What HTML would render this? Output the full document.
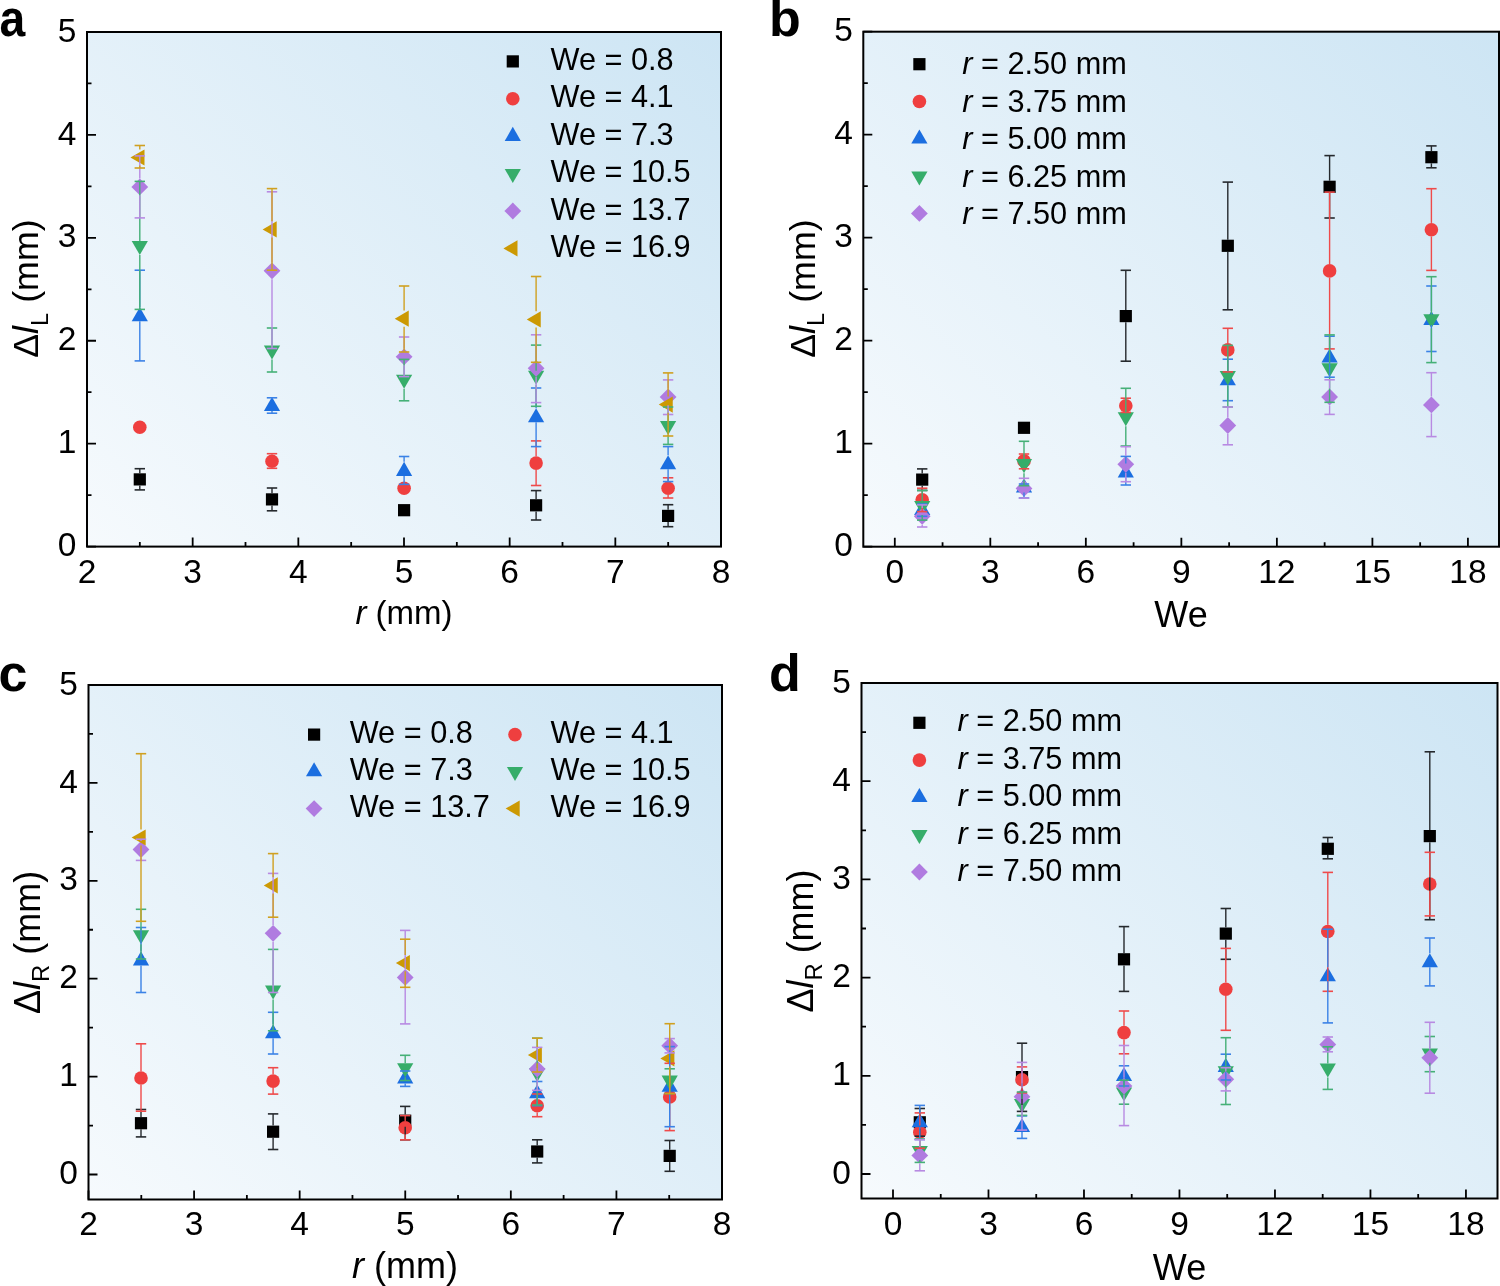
<!DOCTYPE html>
<html><head><meta charset="utf-8"><title>Figure</title>
<style>
html,body{margin:0;padding:0;background:#fff;}
body{width:1500px;height:1286px;overflow:hidden;font-family:"Liberation Sans", sans-serif;}
svg{display:block;will-change:transform;}
</style></head><body>
<svg width="1500" height="1286" viewBox="0 0 1500 1286" font-family='"Liberation Sans", sans-serif' fill="#000">
<linearGradient id="grada" gradientUnits="userSpaceOnUse" x1="116.85" y1="576.45" x2="691.15" y2="2.15"><stop offset="0" stop-color="#f6fafd"/><stop offset="1" stop-color="#cde5f4"/></linearGradient>
<rect x="87" y="32" width="634" height="514.6" fill="url(#grada)"/>
<path d="M87 546.6V537.6M192.67 546.6V537.6M298.33 546.6V537.6M404 546.6V537.6M509.67 546.6V537.6M615.33 546.6V537.6M721 546.6V537.6M139.83 546.6V542.1M245.5 546.6V542.1M351.17 546.6V542.1M456.83 546.6V542.1M562.5 546.6V542.1M668.17 546.6V542.1M87 546.6H96M87 443.68H96M87 340.76H96M87 237.84H96M87 134.92H96M87 32H96M87 495.14H91.5M87 392.22H91.5M87 289.3H91.5M87 186.38H91.5M87 83.46H91.5" stroke="#000" stroke-width="1.8" fill="none"/>
<rect x="133.7" y="473.3" width="12.2" height="12.2" fill="#000000"/>
<rect x="265.9" y="493.3" width="12.2" height="12.2" fill="#000000"/>
<rect x="398" y="504.1" width="12.2" height="12.2" fill="#000000"/>
<rect x="530" y="499.2" width="12.2" height="12.2" fill="#000000"/>
<rect x="662" y="509.8" width="12.2" height="12.2" fill="#000000"/>
<circle cx="139.8" cy="427.2" r="6.8" fill="#ef3f3f"/>
<circle cx="272" cy="461.2" r="6.8" fill="#ef3f3f"/>
<circle cx="404.1" cy="488.2" r="6.8" fill="#ef3f3f"/>
<circle cx="536.1" cy="463.1" r="6.8" fill="#ef3f3f"/>
<circle cx="668.1" cy="488.2" r="6.8" fill="#ef3f3f"/>
<polygon points="139.8,307.15 147.9,321.18 131.7,321.18" fill="#1b6ee0"/>
<polygon points="272,396.95 280.1,410.98 263.9,410.98" fill="#1b6ee0"/>
<polygon points="404.1,461.85 412.2,475.88 396,475.88" fill="#1b6ee0"/>
<polygon points="536.1,408.15 544.2,422.18 528,422.18" fill="#1b6ee0"/>
<polygon points="668.1,455.25 676.2,469.28 660,469.28" fill="#1b6ee0"/>
<polygon points="139.8,255.05 147.9,241.02 131.7,241.02" fill="#36ad6a"/>
<polygon points="272,359.55 280.1,345.52 263.9,345.52" fill="#36ad6a"/>
<polygon points="404.1,388.85 412.2,374.82 396,374.82" fill="#36ad6a"/>
<polygon points="536.1,384.85 544.2,370.82 528,370.82" fill="#36ad6a"/>
<polygon points="668.1,435.05 676.2,421.02 660,421.02" fill="#36ad6a"/>
<polygon points="139.8,178.5 148.2,186.9 139.8,195.3 131.4,186.9" fill="#b07be0"/>
<polygon points="272,262.4 280.4,270.8 272,279.2 263.6,270.8" fill="#b07be0"/>
<polygon points="404.1,348.4 412.5,356.8 404.1,365.2 395.7,356.8" fill="#b07be0"/>
<polygon points="536.1,359.9 544.5,368.3 536.1,376.7 527.7,368.3" fill="#b07be0"/>
<polygon points="668.1,388.5 676.5,396.9 668.1,405.3 659.7,396.9" fill="#b07be0"/>
<polygon points="130.45,157.5 144.48,149.4 144.48,165.6" fill="#cc9903"/>
<polygon points="262.65,229.4 276.68,221.3 276.68,237.5" fill="#cc9903"/>
<polygon points="394.75,318.7 408.78,310.6 408.78,326.8" fill="#cc9903"/>
<polygon points="526.75,319.4 540.78,311.3 540.78,327.5" fill="#cc9903"/>
<polygon points="658.75,404.6 672.78,396.5 672.78,412.7" fill="#cc9903"/>
<line x1="139.8" y1="468.7" x2="139.8" y2="473.3" stroke="#25292d" stroke-width="1.4"/><line x1="139.8" y1="485.5" x2="139.8" y2="489.9" stroke="#25292d" stroke-width="1.4"/><line x1="134.6" y1="468.7" x2="145" y2="468.7" stroke="#25292d" stroke-width="1.6"/><line x1="134.6" y1="489.9" x2="145" y2="489.9" stroke="#25292d" stroke-width="1.6"/>
<line x1="272" y1="488" x2="272" y2="493.3" stroke="#25292d" stroke-width="1.4"/><line x1="272" y1="505.5" x2="272" y2="510.8" stroke="#25292d" stroke-width="1.4"/><line x1="266.8" y1="488" x2="277.2" y2="488" stroke="#25292d" stroke-width="1.6"/><line x1="266.8" y1="510.8" x2="277.2" y2="510.8" stroke="#25292d" stroke-width="1.6"/>

<line x1="536.1" y1="490.6" x2="536.1" y2="499.2" stroke="#25292d" stroke-width="1.4"/><line x1="536.1" y1="511.4" x2="536.1" y2="520" stroke="#25292d" stroke-width="1.4"/><line x1="530.9" y1="490.6" x2="541.3" y2="490.6" stroke="#25292d" stroke-width="1.6"/><line x1="530.9" y1="520" x2="541.3" y2="520" stroke="#25292d" stroke-width="1.6"/>
<line x1="668.1" y1="504.7" x2="668.1" y2="509.8" stroke="#25292d" stroke-width="1.4"/><line x1="668.1" y1="522" x2="668.1" y2="526.7" stroke="#25292d" stroke-width="1.4"/><line x1="662.9" y1="504.7" x2="673.3" y2="504.7" stroke="#25292d" stroke-width="1.6"/><line x1="662.9" y1="526.7" x2="673.3" y2="526.7" stroke="#25292d" stroke-width="1.6"/>

<line x1="272" y1="453.7" x2="272" y2="454.4" stroke="#ef4a4a" stroke-width="1.4"/><line x1="272" y1="468" x2="272" y2="468.3" stroke="#ef4a4a" stroke-width="1.4"/><line x1="266.8" y1="453.7" x2="277.2" y2="453.7" stroke="#ef4a4a" stroke-width="1.6"/><line x1="266.8" y1="468.3" x2="277.2" y2="468.3" stroke="#ef4a4a" stroke-width="1.6"/>

<line x1="536.1" y1="440.9" x2="536.1" y2="456.3" stroke="#ef4a4a" stroke-width="1.4"/><line x1="536.1" y1="469.9" x2="536.1" y2="485.5" stroke="#ef4a4a" stroke-width="1.4"/><line x1="530.9" y1="440.9" x2="541.3" y2="440.9" stroke="#ef4a4a" stroke-width="1.6"/><line x1="530.9" y1="485.5" x2="541.3" y2="485.5" stroke="#ef4a4a" stroke-width="1.6"/>
<line x1="668.1" y1="477.8" x2="668.1" y2="481.4" stroke="#ef4a4a" stroke-width="1.4"/><line x1="668.1" y1="495" x2="668.1" y2="498" stroke="#ef4a4a" stroke-width="1.4"/><line x1="662.9" y1="477.8" x2="673.3" y2="477.8" stroke="#ef4a4a" stroke-width="1.6"/><line x1="662.9" y1="498" x2="673.3" y2="498" stroke="#ef4a4a" stroke-width="1.6"/>
<line x1="139.8" y1="270.2" x2="139.8" y2="307.15" stroke="#3b82e6" stroke-width="1.4"/><line x1="139.8" y1="321.18" x2="139.8" y2="360.9" stroke="#3b82e6" stroke-width="1.4"/><line x1="134.6" y1="270.2" x2="145" y2="270.2" stroke="#3b82e6" stroke-width="1.6"/><line x1="134.6" y1="360.9" x2="145" y2="360.9" stroke="#3b82e6" stroke-width="1.6"/>
<line x1="272" y1="410.98" x2="272" y2="413.2" stroke="#3b82e6" stroke-width="1.4"/><line x1="266.8" y1="397.8" x2="277.2" y2="397.8" stroke="#3b82e6" stroke-width="1.6"/><line x1="266.8" y1="413.2" x2="277.2" y2="413.2" stroke="#3b82e6" stroke-width="1.6"/>
<line x1="404.1" y1="456.5" x2="404.1" y2="461.85" stroke="#3b82e6" stroke-width="1.4"/><line x1="404.1" y1="475.88" x2="404.1" y2="484.4" stroke="#3b82e6" stroke-width="1.4"/><line x1="398.9" y1="456.5" x2="409.3" y2="456.5" stroke="#3b82e6" stroke-width="1.6"/><line x1="398.9" y1="484.4" x2="409.3" y2="484.4" stroke="#3b82e6" stroke-width="1.6"/>
<line x1="536.1" y1="388" x2="536.1" y2="408.15" stroke="#3b82e6" stroke-width="1.4"/><line x1="536.1" y1="422.18" x2="536.1" y2="446.6" stroke="#3b82e6" stroke-width="1.4"/><line x1="530.9" y1="388" x2="541.3" y2="388" stroke="#3b82e6" stroke-width="1.6"/><line x1="530.9" y1="446.6" x2="541.3" y2="446.6" stroke="#3b82e6" stroke-width="1.6"/>
<line x1="668.1" y1="446.6" x2="668.1" y2="455.25" stroke="#3b82e6" stroke-width="1.4"/><line x1="668.1" y1="469.28" x2="668.1" y2="481.6" stroke="#3b82e6" stroke-width="1.4"/><line x1="662.9" y1="446.6" x2="673.3" y2="446.6" stroke="#3b82e6" stroke-width="1.6"/><line x1="662.9" y1="481.6" x2="673.3" y2="481.6" stroke="#3b82e6" stroke-width="1.6"/>
<line x1="139.8" y1="181.4" x2="139.8" y2="241.02" stroke="#45b077" stroke-width="1.4"/><line x1="139.8" y1="255.05" x2="139.8" y2="309.4" stroke="#45b077" stroke-width="1.4"/><line x1="134.6" y1="181.4" x2="145" y2="181.4" stroke="#45b077" stroke-width="1.6"/><line x1="134.6" y1="309.4" x2="145" y2="309.4" stroke="#45b077" stroke-width="1.6"/>
<line x1="272" y1="328" x2="272" y2="345.52" stroke="#45b077" stroke-width="1.4"/><line x1="272" y1="359.55" x2="272" y2="372" stroke="#45b077" stroke-width="1.4"/><line x1="266.8" y1="328" x2="277.2" y2="328" stroke="#45b077" stroke-width="1.6"/><line x1="266.8" y1="372" x2="277.2" y2="372" stroke="#45b077" stroke-width="1.6"/>
<line x1="404.1" y1="359.4" x2="404.1" y2="374.82" stroke="#45b077" stroke-width="1.4"/><line x1="404.1" y1="388.85" x2="404.1" y2="400.8" stroke="#45b077" stroke-width="1.4"/><line x1="398.9" y1="359.4" x2="409.3" y2="359.4" stroke="#45b077" stroke-width="1.6"/><line x1="398.9" y1="400.8" x2="409.3" y2="400.8" stroke="#45b077" stroke-width="1.6"/>
<line x1="536.1" y1="345.1" x2="536.1" y2="370.82" stroke="#45b077" stroke-width="1.4"/><line x1="536.1" y1="384.85" x2="536.1" y2="406.3" stroke="#45b077" stroke-width="1.4"/><line x1="530.9" y1="345.1" x2="541.3" y2="345.1" stroke="#45b077" stroke-width="1.6"/><line x1="530.9" y1="406.3" x2="541.3" y2="406.3" stroke="#45b077" stroke-width="1.6"/>
<line x1="668.1" y1="407" x2="668.1" y2="421.02" stroke="#45b077" stroke-width="1.4"/><line x1="668.1" y1="435.05" x2="668.1" y2="444.4" stroke="#45b077" stroke-width="1.4"/><line x1="662.9" y1="407" x2="673.3" y2="407" stroke="#45b077" stroke-width="1.6"/><line x1="662.9" y1="444.4" x2="673.3" y2="444.4" stroke="#45b077" stroke-width="1.6"/>
<line x1="139.8" y1="155.9" x2="139.8" y2="178.5" stroke="#b88ae2" stroke-width="1.4"/><line x1="139.8" y1="195.3" x2="139.8" y2="217.9" stroke="#b88ae2" stroke-width="1.4"/><line x1="134.6" y1="155.9" x2="145" y2="155.9" stroke="#b88ae2" stroke-width="1.6"/><line x1="134.6" y1="217.9" x2="145" y2="217.9" stroke="#b88ae2" stroke-width="1.6"/>
<line x1="272" y1="191.8" x2="272" y2="262.4" stroke="#b88ae2" stroke-width="1.4"/><line x1="272" y1="279.2" x2="272" y2="348.5" stroke="#b88ae2" stroke-width="1.4"/><line x1="266.8" y1="191.8" x2="277.2" y2="191.8" stroke="#b88ae2" stroke-width="1.6"/><line x1="266.8" y1="348.5" x2="277.2" y2="348.5" stroke="#b88ae2" stroke-width="1.6"/>
<line x1="404.1" y1="337" x2="404.1" y2="348.4" stroke="#b88ae2" stroke-width="1.4"/><line x1="404.1" y1="365.2" x2="404.1" y2="376.6" stroke="#b88ae2" stroke-width="1.4"/><line x1="398.9" y1="337" x2="409.3" y2="337" stroke="#b88ae2" stroke-width="1.6"/><line x1="398.9" y1="376.6" x2="409.3" y2="376.6" stroke="#b88ae2" stroke-width="1.6"/>
<line x1="536.1" y1="334.8" x2="536.1" y2="359.9" stroke="#b88ae2" stroke-width="1.4"/><line x1="536.1" y1="376.7" x2="536.1" y2="402.6" stroke="#b88ae2" stroke-width="1.4"/><line x1="530.9" y1="334.8" x2="541.3" y2="334.8" stroke="#b88ae2" stroke-width="1.6"/><line x1="530.9" y1="402.6" x2="541.3" y2="402.6" stroke="#b88ae2" stroke-width="1.6"/>
<line x1="668.1" y1="379.9" x2="668.1" y2="388.5" stroke="#b88ae2" stroke-width="1.4"/><line x1="668.1" y1="405.3" x2="668.1" y2="414.5" stroke="#b88ae2" stroke-width="1.4"/><line x1="662.9" y1="379.9" x2="673.3" y2="379.9" stroke="#b88ae2" stroke-width="1.6"/><line x1="662.9" y1="414.5" x2="673.3" y2="414.5" stroke="#b88ae2" stroke-width="1.6"/>
<line x1="139.8" y1="145.5" x2="139.8" y2="149.4" stroke="#d0a020" stroke-width="1.4"/><line x1="139.8" y1="165.6" x2="139.8" y2="168" stroke="#d0a020" stroke-width="1.4"/><line x1="134.6" y1="145.5" x2="145" y2="145.5" stroke="#d0a020" stroke-width="1.6"/><line x1="134.6" y1="168" x2="145" y2="168" stroke="#d0a020" stroke-width="1.6"/>
<line x1="272" y1="188.6" x2="272" y2="221.3" stroke="#d0a020" stroke-width="1.4"/><line x1="272" y1="237.5" x2="272" y2="270.2" stroke="#d0a020" stroke-width="1.4"/><line x1="266.8" y1="188.6" x2="277.2" y2="188.6" stroke="#d0a020" stroke-width="1.6"/><line x1="266.8" y1="270.2" x2="277.2" y2="270.2" stroke="#d0a020" stroke-width="1.6"/>
<line x1="404.1" y1="286" x2="404.1" y2="310.6" stroke="#d0a020" stroke-width="1.4"/><line x1="404.1" y1="326.8" x2="404.1" y2="352" stroke="#d0a020" stroke-width="1.4"/><line x1="398.9" y1="286" x2="409.3" y2="286" stroke="#d0a020" stroke-width="1.6"/><line x1="398.9" y1="352" x2="409.3" y2="352" stroke="#d0a020" stroke-width="1.6"/>
<line x1="536.1" y1="276.5" x2="536.1" y2="311.3" stroke="#d0a020" stroke-width="1.4"/><line x1="536.1" y1="327.5" x2="536.1" y2="362.3" stroke="#d0a020" stroke-width="1.4"/><line x1="530.9" y1="276.5" x2="541.3" y2="276.5" stroke="#d0a020" stroke-width="1.6"/><line x1="530.9" y1="362.3" x2="541.3" y2="362.3" stroke="#d0a020" stroke-width="1.6"/>
<line x1="668.1" y1="372.9" x2="668.1" y2="396.5" stroke="#d0a020" stroke-width="1.4"/><line x1="668.1" y1="412.7" x2="668.1" y2="436" stroke="#d0a020" stroke-width="1.4"/><line x1="662.9" y1="372.9" x2="673.3" y2="372.9" stroke="#d0a020" stroke-width="1.6"/><line x1="662.9" y1="436" x2="673.3" y2="436" stroke="#d0a020" stroke-width="1.6"/>
<rect x="506.7" y="55.3" width="12.2" height="12.2" fill="#000000"/>
<text x="550.5" y="69.5" font-size="30.7">We = 0.8</text>
<circle cx="512.8" cy="98.8" r="6.8" fill="#ef3f3f"/>
<text x="550.5" y="107" font-size="30.7">We = 4.1</text>
<polygon points="512.8,126.85 520.9,140.88 504.7,140.88" fill="#1b6ee0"/>
<text x="550.5" y="144.5" font-size="30.7">We = 7.3</text>
<polygon points="512.8,182.95 520.9,168.92 504.7,168.92" fill="#36ad6a"/>
<text x="550.5" y="182" font-size="30.7">We = 10.5</text>
<polygon points="512.8,202.6 521.2,211 512.8,219.4 504.4,211" fill="#b07be0"/>
<text x="550.5" y="219.5" font-size="30.7">We = 13.7</text>
<polygon points="503.45,248.4 517.48,240.3 517.48,256.5" fill="#cc9903"/>
<text x="550.5" y="257" font-size="30.7">We = 16.9</text>
<rect x="87" y="32" width="634" height="514.6" fill="none" stroke="#000" stroke-width="2"/>
<text x="87" y="583" font-size="33.5" text-anchor="middle">2</text>
<text x="192.67" y="583" font-size="33.5" text-anchor="middle">3</text>
<text x="298.33" y="583" font-size="33.5" text-anchor="middle">4</text>
<text x="404" y="583" font-size="33.5" text-anchor="middle">5</text>
<text x="509.67" y="583" font-size="33.5" text-anchor="middle">6</text>
<text x="615.33" y="583" font-size="33.5" text-anchor="middle">7</text>
<text x="721" y="583" font-size="33.5" text-anchor="middle">8</text>
<text x="76.5" y="556.2" font-size="33.5" text-anchor="end">0</text>
<text x="76.5" y="453.28" font-size="33.5" text-anchor="end">1</text>
<text x="76.5" y="350.36" font-size="33.5" text-anchor="end">2</text>
<text x="76.5" y="247.44" font-size="33.5" text-anchor="end">3</text>
<text x="76.5" y="144.52" font-size="33.5" text-anchor="end">4</text>
<text x="76.5" y="41.6" font-size="33.5" text-anchor="end">5</text>
<linearGradient id="gradb" gradientUnits="userSpaceOnUse" x1="893.48" y1="576.88" x2="1468.83" y2="1.53"><stop offset="0" stop-color="#f6fafd"/><stop offset="1" stop-color="#cde5f4"/></linearGradient>
<rect x="863.3" y="31.7" width="635.7" height="515" fill="url(#gradb)"/>
<path d="M894.8 546.7V537.7M990.32 546.7V537.7M1085.84 546.7V537.7M1181.36 546.7V537.7M1276.88 546.7V537.7M1372.4 546.7V537.7M1467.92 546.7V537.7M942.56 546.7V542.2M1038.08 546.7V542.2M1133.6 546.7V542.2M1229.12 546.7V542.2M1324.64 546.7V542.2M1420.16 546.7V542.2M863.3 546.7H872.3M863.3 443.7H872.3M863.3 340.7H872.3M863.3 237.7H872.3M863.3 134.7H872.3M863.3 31.7H872.3M863.3 495.2H867.8M863.3 392.2H867.8M863.3 289.2H867.8M863.3 186.2H867.8M863.3 83.2H867.8" stroke="#000" stroke-width="1.8" fill="none"/>
<rect x="916.1" y="473.5" width="12.2" height="12.2" fill="#000000"/>
<rect x="1017.9" y="421.7" width="12.2" height="12.2" fill="#000000"/>
<rect x="1119.7" y="310" width="12.2" height="12.2" fill="#000000"/>
<rect x="1221.7" y="239.7" width="12.2" height="12.2" fill="#000000"/>
<rect x="1323.5" y="180.7" width="12.2" height="12.2" fill="#000000"/>
<rect x="1425.3" y="151.1" width="12.2" height="12.2" fill="#000000"/>
<circle cx="922.2" cy="499.8" r="6.8" fill="#ef3f3f"/>
<circle cx="1024" cy="460.9" r="6.8" fill="#ef3f3f"/>
<circle cx="1125.8" cy="405.7" r="6.8" fill="#ef3f3f"/>
<circle cx="1227.8" cy="349.9" r="6.8" fill="#ef3f3f"/>
<circle cx="1329.6" cy="270.9" r="6.8" fill="#ef3f3f"/>
<circle cx="1431.4" cy="229.7" r="6.8" fill="#ef3f3f"/>
<polygon points="922.2,500.85 930.3,514.88 914.1,514.88" fill="#1b6ee0"/>
<polygon points="1024,478.35 1032.1,492.38 1015.9,492.38" fill="#1b6ee0"/>
<polygon points="1125.8,463.55 1133.9,477.58 1117.7,477.58" fill="#1b6ee0"/>
<polygon points="1227.8,371.25 1235.9,385.28 1219.7,385.28" fill="#1b6ee0"/>
<polygon points="1329.6,348.55 1337.7,362.58 1321.5,362.58" fill="#1b6ee0"/>
<polygon points="1431.4,310.95 1439.5,324.98 1423.3,324.98" fill="#1b6ee0"/>
<polygon points="922.2,515.05 930.3,501.02 914.1,501.02" fill="#36ad6a"/>
<polygon points="1024,473.15 1032.1,459.12 1015.9,459.12" fill="#36ad6a"/>
<polygon points="1125.8,426.25 1133.9,412.22 1117.7,412.22" fill="#36ad6a"/>
<polygon points="1227.8,385.15 1235.9,371.12 1219.7,371.12" fill="#36ad6a"/>
<polygon points="1329.6,377.25 1337.7,363.22 1321.5,363.22" fill="#36ad6a"/>
<polygon points="1431.4,328.35 1439.5,314.32 1423.3,314.32" fill="#36ad6a"/>
<polygon points="922.2,507.9 930.6,516.3 922.2,524.7 913.8,516.3" fill="#b07be0"/>
<polygon points="1024,480 1032.4,488.4 1024,496.8 1015.6,488.4" fill="#b07be0"/>
<polygon points="1125.8,455.9 1134.2,464.3 1125.8,472.7 1117.4,464.3" fill="#b07be0"/>
<polygon points="1227.8,417.1 1236.2,425.5 1227.8,433.9 1219.4,425.5" fill="#b07be0"/>
<polygon points="1329.6,388.6 1338,397 1329.6,405.4 1321.2,397" fill="#b07be0"/>
<polygon points="1431.4,396.5 1439.8,404.9 1431.4,413.3 1423,404.9" fill="#b07be0"/>
<line x1="922.2" y1="468.9" x2="922.2" y2="473.5" stroke="#25292d" stroke-width="1.4"/><line x1="922.2" y1="485.7" x2="922.2" y2="490.4" stroke="#25292d" stroke-width="1.4"/><line x1="917" y1="468.9" x2="927.4" y2="468.9" stroke="#25292d" stroke-width="1.6"/><line x1="917" y1="490.4" x2="927.4" y2="490.4" stroke="#25292d" stroke-width="1.6"/>

<line x1="1125.8" y1="270.3" x2="1125.8" y2="310" stroke="#25292d" stroke-width="1.4"/><line x1="1125.8" y1="322.2" x2="1125.8" y2="361.2" stroke="#25292d" stroke-width="1.4"/><line x1="1120.6" y1="270.3" x2="1131" y2="270.3" stroke="#25292d" stroke-width="1.6"/><line x1="1120.6" y1="361.2" x2="1131" y2="361.2" stroke="#25292d" stroke-width="1.6"/>
<line x1="1227.8" y1="182.1" x2="1227.8" y2="239.7" stroke="#25292d" stroke-width="1.4"/><line x1="1227.8" y1="251.9" x2="1227.8" y2="309.8" stroke="#25292d" stroke-width="1.4"/><line x1="1222.6" y1="182.1" x2="1233" y2="182.1" stroke="#25292d" stroke-width="1.6"/><line x1="1222.6" y1="309.8" x2="1233" y2="309.8" stroke="#25292d" stroke-width="1.6"/>
<line x1="1329.6" y1="155.6" x2="1329.6" y2="180.7" stroke="#25292d" stroke-width="1.4"/><line x1="1329.6" y1="192.9" x2="1329.6" y2="218" stroke="#25292d" stroke-width="1.4"/><line x1="1324.4" y1="155.6" x2="1334.8" y2="155.6" stroke="#25292d" stroke-width="1.6"/><line x1="1324.4" y1="218" x2="1334.8" y2="218" stroke="#25292d" stroke-width="1.6"/>
<line x1="1431.4" y1="145.9" x2="1431.4" y2="151.1" stroke="#25292d" stroke-width="1.4"/><line x1="1431.4" y1="163.3" x2="1431.4" y2="167.8" stroke="#25292d" stroke-width="1.4"/><line x1="1426.2" y1="145.9" x2="1436.6" y2="145.9" stroke="#25292d" stroke-width="1.6"/><line x1="1426.2" y1="167.8" x2="1436.6" y2="167.8" stroke="#25292d" stroke-width="1.6"/>
<line x1="922.2" y1="488.2" x2="922.2" y2="493" stroke="#ef4a4a" stroke-width="1.4"/><line x1="922.2" y1="506.6" x2="922.2" y2="511.6" stroke="#ef4a4a" stroke-width="1.4"/><line x1="917" y1="488.2" x2="927.4" y2="488.2" stroke="#ef4a4a" stroke-width="1.6"/><line x1="917" y1="511.6" x2="927.4" y2="511.6" stroke="#ef4a4a" stroke-width="1.6"/>
<line x1="1024" y1="454" x2="1024" y2="454.1" stroke="#ef4a4a" stroke-width="1.4"/><line x1="1024" y1="467.7" x2="1024" y2="468.8" stroke="#ef4a4a" stroke-width="1.4"/><line x1="1018.8" y1="454" x2="1029.2" y2="454" stroke="#ef4a4a" stroke-width="1.6"/><line x1="1018.8" y1="468.8" x2="1029.2" y2="468.8" stroke="#ef4a4a" stroke-width="1.6"/>
<line x1="1125.8" y1="398.2" x2="1125.8" y2="398.9" stroke="#ef4a4a" stroke-width="1.4"/><line x1="1120.6" y1="398.2" x2="1131" y2="398.2" stroke="#ef4a4a" stroke-width="1.6"/><line x1="1120.6" y1="412.4" x2="1131" y2="412.4" stroke="#ef4a4a" stroke-width="1.6"/>
<line x1="1227.8" y1="328.3" x2="1227.8" y2="343.1" stroke="#ef4a4a" stroke-width="1.4"/><line x1="1227.8" y1="356.7" x2="1227.8" y2="371.9" stroke="#ef4a4a" stroke-width="1.4"/><line x1="1222.6" y1="328.3" x2="1233" y2="328.3" stroke="#ef4a4a" stroke-width="1.6"/><line x1="1222.6" y1="371.9" x2="1233" y2="371.9" stroke="#ef4a4a" stroke-width="1.6"/>
<line x1="1329.6" y1="192.1" x2="1329.6" y2="264.1" stroke="#ef4a4a" stroke-width="1.4"/><line x1="1329.6" y1="277.7" x2="1329.6" y2="348.9" stroke="#ef4a4a" stroke-width="1.4"/><line x1="1324.4" y1="192.1" x2="1334.8" y2="192.1" stroke="#ef4a4a" stroke-width="1.6"/><line x1="1324.4" y1="348.9" x2="1334.8" y2="348.9" stroke="#ef4a4a" stroke-width="1.6"/>
<line x1="1431.4" y1="188.7" x2="1431.4" y2="222.9" stroke="#ef4a4a" stroke-width="1.4"/><line x1="1431.4" y1="236.5" x2="1431.4" y2="270.4" stroke="#ef4a4a" stroke-width="1.4"/><line x1="1426.2" y1="188.7" x2="1436.6" y2="188.7" stroke="#ef4a4a" stroke-width="1.6"/><line x1="1426.2" y1="270.4" x2="1436.6" y2="270.4" stroke="#ef4a4a" stroke-width="1.6"/>
<line x1="922.2" y1="514.88" x2="922.2" y2="516.3" stroke="#3b82e6" stroke-width="1.4"/><line x1="917" y1="504" x2="927.4" y2="504" stroke="#3b82e6" stroke-width="1.6"/><line x1="917" y1="516.3" x2="927.4" y2="516.3" stroke="#3b82e6" stroke-width="1.6"/>
<line x1="1024" y1="492.38" x2="1024" y2="498" stroke="#3b82e6" stroke-width="1.4"/><line x1="1018.8" y1="484" x2="1029.2" y2="484" stroke="#3b82e6" stroke-width="1.6"/><line x1="1018.8" y1="498" x2="1029.2" y2="498" stroke="#3b82e6" stroke-width="1.6"/>
<line x1="1125.8" y1="456.4" x2="1125.8" y2="463.55" stroke="#3b82e6" stroke-width="1.4"/><line x1="1125.8" y1="477.58" x2="1125.8" y2="485" stroke="#3b82e6" stroke-width="1.4"/><line x1="1120.6" y1="456.4" x2="1131" y2="456.4" stroke="#3b82e6" stroke-width="1.6"/><line x1="1120.6" y1="485" x2="1131" y2="485" stroke="#3b82e6" stroke-width="1.6"/>
<line x1="1227.8" y1="359.2" x2="1227.8" y2="371.25" stroke="#3b82e6" stroke-width="1.4"/><line x1="1227.8" y1="385.28" x2="1227.8" y2="400.7" stroke="#3b82e6" stroke-width="1.4"/><line x1="1222.6" y1="359.2" x2="1233" y2="359.2" stroke="#3b82e6" stroke-width="1.6"/><line x1="1222.6" y1="400.7" x2="1233" y2="400.7" stroke="#3b82e6" stroke-width="1.6"/>
<line x1="1329.6" y1="336.2" x2="1329.6" y2="348.55" stroke="#3b82e6" stroke-width="1.4"/><line x1="1329.6" y1="362.58" x2="1329.6" y2="377.2" stroke="#3b82e6" stroke-width="1.4"/><line x1="1324.4" y1="336.2" x2="1334.8" y2="336.2" stroke="#3b82e6" stroke-width="1.6"/><line x1="1324.4" y1="377.2" x2="1334.8" y2="377.2" stroke="#3b82e6" stroke-width="1.6"/>
<line x1="1431.4" y1="286" x2="1431.4" y2="310.95" stroke="#3b82e6" stroke-width="1.4"/><line x1="1431.4" y1="324.98" x2="1431.4" y2="351.5" stroke="#3b82e6" stroke-width="1.4"/><line x1="1426.2" y1="286" x2="1436.6" y2="286" stroke="#3b82e6" stroke-width="1.6"/><line x1="1426.2" y1="351.5" x2="1436.6" y2="351.5" stroke="#3b82e6" stroke-width="1.6"/>
<line x1="922.2" y1="490.5" x2="922.2" y2="501.02" stroke="#45b077" stroke-width="1.4"/><line x1="922.2" y1="515.05" x2="922.2" y2="520.1" stroke="#45b077" stroke-width="1.4"/><line x1="917" y1="490.5" x2="927.4" y2="490.5" stroke="#45b077" stroke-width="1.6"/><line x1="917" y1="520.1" x2="927.4" y2="520.1" stroke="#45b077" stroke-width="1.6"/>
<line x1="1024" y1="441.3" x2="1024" y2="459.12" stroke="#45b077" stroke-width="1.4"/><line x1="1024" y1="473.15" x2="1024" y2="485.7" stroke="#45b077" stroke-width="1.4"/><line x1="1018.8" y1="441.3" x2="1029.2" y2="441.3" stroke="#45b077" stroke-width="1.6"/><line x1="1018.8" y1="485.7" x2="1029.2" y2="485.7" stroke="#45b077" stroke-width="1.6"/>
<line x1="1125.8" y1="388.3" x2="1125.8" y2="412.22" stroke="#45b077" stroke-width="1.4"/><line x1="1125.8" y1="426.25" x2="1125.8" y2="446" stroke="#45b077" stroke-width="1.4"/><line x1="1120.6" y1="388.3" x2="1131" y2="388.3" stroke="#45b077" stroke-width="1.6"/><line x1="1120.6" y1="446" x2="1131" y2="446" stroke="#45b077" stroke-width="1.6"/>
<line x1="1227.8" y1="345.4" x2="1227.8" y2="371.12" stroke="#45b077" stroke-width="1.4"/><line x1="1227.8" y1="385.15" x2="1227.8" y2="407" stroke="#45b077" stroke-width="1.4"/><line x1="1222.6" y1="345.4" x2="1233" y2="345.4" stroke="#45b077" stroke-width="1.6"/><line x1="1222.6" y1="407" x2="1233" y2="407" stroke="#45b077" stroke-width="1.6"/>
<line x1="1329.6" y1="334.9" x2="1329.6" y2="363.22" stroke="#45b077" stroke-width="1.4"/><line x1="1329.6" y1="377.25" x2="1329.6" y2="402.3" stroke="#45b077" stroke-width="1.4"/><line x1="1324.4" y1="334.9" x2="1334.8" y2="334.9" stroke="#45b077" stroke-width="1.6"/><line x1="1324.4" y1="402.3" x2="1334.8" y2="402.3" stroke="#45b077" stroke-width="1.6"/>
<line x1="1431.4" y1="276.7" x2="1431.4" y2="314.32" stroke="#45b077" stroke-width="1.4"/><line x1="1431.4" y1="328.35" x2="1431.4" y2="362.6" stroke="#45b077" stroke-width="1.4"/><line x1="1426.2" y1="276.7" x2="1436.6" y2="276.7" stroke="#45b077" stroke-width="1.6"/><line x1="1426.2" y1="362.6" x2="1436.6" y2="362.6" stroke="#45b077" stroke-width="1.6"/>
<line x1="922.2" y1="504.9" x2="922.2" y2="507.9" stroke="#b88ae2" stroke-width="1.4"/><line x1="922.2" y1="524.7" x2="922.2" y2="527" stroke="#b88ae2" stroke-width="1.4"/><line x1="917" y1="504.9" x2="927.4" y2="504.9" stroke="#b88ae2" stroke-width="1.6"/><line x1="917" y1="527" x2="927.4" y2="527" stroke="#b88ae2" stroke-width="1.6"/>
<line x1="1024" y1="478.3" x2="1024" y2="480" stroke="#b88ae2" stroke-width="1.4"/><line x1="1024" y1="496.8" x2="1024" y2="498.1" stroke="#b88ae2" stroke-width="1.4"/><line x1="1018.8" y1="478.3" x2="1029.2" y2="478.3" stroke="#b88ae2" stroke-width="1.6"/><line x1="1018.8" y1="498.1" x2="1029.2" y2="498.1" stroke="#b88ae2" stroke-width="1.6"/>
<line x1="1125.8" y1="446.7" x2="1125.8" y2="455.9" stroke="#b88ae2" stroke-width="1.4"/><line x1="1125.8" y1="472.7" x2="1125.8" y2="481.7" stroke="#b88ae2" stroke-width="1.4"/><line x1="1120.6" y1="446.7" x2="1131" y2="446.7" stroke="#b88ae2" stroke-width="1.6"/><line x1="1120.6" y1="481.7" x2="1131" y2="481.7" stroke="#b88ae2" stroke-width="1.6"/>
<line x1="1227.8" y1="407" x2="1227.8" y2="417.1" stroke="#b88ae2" stroke-width="1.4"/><line x1="1227.8" y1="433.9" x2="1227.8" y2="444.8" stroke="#b88ae2" stroke-width="1.4"/><line x1="1222.6" y1="407" x2="1233" y2="407" stroke="#b88ae2" stroke-width="1.6"/><line x1="1222.6" y1="444.8" x2="1233" y2="444.8" stroke="#b88ae2" stroke-width="1.6"/>
<line x1="1329.6" y1="379.8" x2="1329.6" y2="388.6" stroke="#b88ae2" stroke-width="1.4"/><line x1="1329.6" y1="405.4" x2="1329.6" y2="414.4" stroke="#b88ae2" stroke-width="1.4"/><line x1="1324.4" y1="379.8" x2="1334.8" y2="379.8" stroke="#b88ae2" stroke-width="1.6"/><line x1="1324.4" y1="414.4" x2="1334.8" y2="414.4" stroke="#b88ae2" stroke-width="1.6"/>
<line x1="1431.4" y1="372.7" x2="1431.4" y2="396.5" stroke="#b88ae2" stroke-width="1.4"/><line x1="1431.4" y1="413.3" x2="1431.4" y2="436.6" stroke="#b88ae2" stroke-width="1.4"/><line x1="1426.2" y1="372.7" x2="1436.6" y2="372.7" stroke="#b88ae2" stroke-width="1.6"/><line x1="1426.2" y1="436.6" x2="1436.6" y2="436.6" stroke="#b88ae2" stroke-width="1.6"/>
<rect x="913.3" y="58.1" width="12.2" height="12.2" fill="#000000"/>
<text x="962.2" y="74.2" font-size="30.7"><tspan font-style="italic">r</tspan> = 2.50 mm</text>
<circle cx="919.4" cy="101.5" r="6.8" fill="#ef3f3f"/>
<text x="962.2" y="111.7" font-size="30.7"><tspan font-style="italic">r</tspan> = 3.75 mm</text>
<polygon points="919.4,129.45 927.5,143.48 911.3,143.48" fill="#1b6ee0"/>
<text x="962.2" y="149.2" font-size="30.7"><tspan font-style="italic">r</tspan> = 5.00 mm</text>
<polygon points="919.4,185.45 927.5,171.42 911.3,171.42" fill="#36ad6a"/>
<text x="962.2" y="186.7" font-size="30.7"><tspan font-style="italic">r</tspan> = 6.25 mm</text>
<polygon points="919.4,205 927.8,213.4 919.4,221.8 911,213.4" fill="#b07be0"/>
<text x="962.2" y="224.2" font-size="30.7"><tspan font-style="italic">r</tspan> = 7.50 mm</text>
<rect x="863.3" y="31.7" width="635.7" height="515" fill="none" stroke="#000" stroke-width="2"/>
<text x="894.8" y="582.7" font-size="33.5" text-anchor="middle">0</text>
<text x="990.32" y="582.7" font-size="33.5" text-anchor="middle">3</text>
<text x="1085.84" y="582.7" font-size="33.5" text-anchor="middle">6</text>
<text x="1181.36" y="582.7" font-size="33.5" text-anchor="middle">9</text>
<text x="1276.88" y="582.7" font-size="33.5" text-anchor="middle">12</text>
<text x="1372.4" y="582.7" font-size="33.5" text-anchor="middle">15</text>
<text x="1467.92" y="582.7" font-size="33.5" text-anchor="middle">18</text>
<text x="852.8" y="556.3" font-size="33.5" text-anchor="end">0</text>
<text x="852.8" y="453.3" font-size="33.5" text-anchor="end">1</text>
<text x="852.8" y="350.3" font-size="33.5" text-anchor="end">2</text>
<text x="852.8" y="247.3" font-size="33.5" text-anchor="end">3</text>
<text x="852.8" y="144.3" font-size="33.5" text-anchor="end">4</text>
<text x="852.8" y="41.3" font-size="33.5" text-anchor="end">5</text>
<linearGradient id="gradc" gradientUnits="userSpaceOnUse" x1="118.25" y1="1229.25" x2="692.25" y2="655.25"><stop offset="0" stop-color="#f6fafd"/><stop offset="1" stop-color="#cde5f4"/></linearGradient>
<rect x="88.5" y="685" width="633.5" height="514.5" fill="url(#gradc)"/>
<path d="M88.5 1199.5V1190.5M194.08 1199.5V1190.5M299.67 1199.5V1190.5M405.25 1199.5V1190.5M510.83 1199.5V1190.5M616.42 1199.5V1190.5M722 1199.5V1190.5M141.29 1199.5V1195M246.88 1199.5V1195M352.46 1199.5V1195M458.04 1199.5V1195M563.62 1199.5V1195M669.21 1199.5V1195M88.5 1174.5H97.5M88.5 1076.6H97.5M88.5 978.7H97.5M88.5 880.8H97.5M88.5 782.9H97.5M88.5 685H97.5M88.5 1125.55H93M88.5 1027.65H93M88.5 929.75H93M88.5 831.85H93M88.5 733.95H93" stroke="#000" stroke-width="1.8" fill="none"/>
<rect x="134.9" y="1117.1" width="12.2" height="12.2" fill="#000000"/>
<rect x="267" y="1125.6" width="12.2" height="12.2" fill="#000000"/>
<rect x="399.1" y="1114.6" width="12.2" height="12.2" fill="#000000"/>
<rect x="531.1" y="1145.4" width="12.2" height="12.2" fill="#000000"/>
<rect x="663.6" y="1149.8" width="12.2" height="12.2" fill="#000000"/>
<circle cx="141" cy="1078" r="6.8" fill="#ef3f3f"/>
<circle cx="273.1" cy="1081.1" r="6.8" fill="#ef3f3f"/>
<circle cx="405.2" cy="1127.7" r="6.8" fill="#ef3f3f"/>
<circle cx="537.2" cy="1105.7" r="6.8" fill="#ef3f3f"/>
<circle cx="669.7" cy="1096.9" r="6.8" fill="#ef3f3f"/>
<polygon points="141,951.35 149.1,965.38 132.9,965.38" fill="#1b6ee0"/>
<polygon points="273.1,1024.15 281.2,1038.18 265,1038.18" fill="#1b6ee0"/>
<polygon points="405.2,1069.35 413.3,1083.38 397.1,1083.38" fill="#1b6ee0"/>
<polygon points="537.2,1084.25 545.3,1098.28 529.1,1098.28" fill="#1b6ee0"/>
<polygon points="669.7,1077.75 677.8,1091.78 661.6,1091.78" fill="#1b6ee0"/>
<polygon points="141,944.35 149.1,930.32 132.9,930.32" fill="#36ad6a"/>
<polygon points="273.1,999.45 281.2,985.42 265,985.42" fill="#36ad6a"/>
<polygon points="405.2,1077.25 413.3,1063.22 397.1,1063.22" fill="#36ad6a"/>
<polygon points="537.2,1082.05 545.3,1068.02 529.1,1068.02" fill="#36ad6a"/>
<polygon points="669.7,1089.65 677.8,1075.62 661.6,1075.62" fill="#36ad6a"/>
<polygon points="141,841.1 149.4,849.5 141,857.9 132.6,849.5" fill="#b07be0"/>
<polygon points="273.1,924.9 281.5,933.3 273.1,941.7 264.7,933.3" fill="#b07be0"/>
<polygon points="405.2,969 413.6,977.4 405.2,985.8 396.8,977.4" fill="#b07be0"/>
<polygon points="537.2,1060.6 545.6,1069 537.2,1077.4 528.8,1069" fill="#b07be0"/>
<polygon points="669.7,1037.3 678.1,1045.7 669.7,1054.1 661.3,1045.7" fill="#b07be0"/>
<polygon points="131.65,837.5 145.68,829.4 145.68,845.6" fill="#cc9903"/>
<polygon points="263.75,885.4 277.78,877.3 277.78,893.5" fill="#cc9903"/>
<polygon points="395.85,963.1 409.88,955 409.88,971.2" fill="#cc9903"/>
<polygon points="527.85,1055.1 541.88,1047 541.88,1063.2" fill="#cc9903"/>
<polygon points="660.35,1058.4 674.38,1050.3 674.38,1066.5" fill="#cc9903"/>
<line x1="141" y1="1109.5" x2="141" y2="1117.1" stroke="#25292d" stroke-width="1.4"/><line x1="141" y1="1129.3" x2="141" y2="1136.9" stroke="#25292d" stroke-width="1.4"/><line x1="135.8" y1="1109.5" x2="146.2" y2="1109.5" stroke="#25292d" stroke-width="1.6"/><line x1="135.8" y1="1136.9" x2="146.2" y2="1136.9" stroke="#25292d" stroke-width="1.6"/>
<line x1="273.1" y1="1113.9" x2="273.1" y2="1125.6" stroke="#25292d" stroke-width="1.4"/><line x1="273.1" y1="1137.8" x2="273.1" y2="1149.5" stroke="#25292d" stroke-width="1.4"/><line x1="267.9" y1="1113.9" x2="278.3" y2="1113.9" stroke="#25292d" stroke-width="1.6"/><line x1="267.9" y1="1149.5" x2="278.3" y2="1149.5" stroke="#25292d" stroke-width="1.6"/>
<line x1="405.2" y1="1106.4" x2="405.2" y2="1114.6" stroke="#25292d" stroke-width="1.4"/><line x1="405.2" y1="1126.8" x2="405.2" y2="1139.8" stroke="#25292d" stroke-width="1.4"/><line x1="400" y1="1106.4" x2="410.4" y2="1106.4" stroke="#25292d" stroke-width="1.6"/><line x1="400" y1="1139.8" x2="410.4" y2="1139.8" stroke="#25292d" stroke-width="1.6"/>
<line x1="537.2" y1="1139.8" x2="537.2" y2="1145.4" stroke="#25292d" stroke-width="1.4"/><line x1="537.2" y1="1157.6" x2="537.2" y2="1162.9" stroke="#25292d" stroke-width="1.4"/><line x1="532" y1="1139.8" x2="542.4" y2="1139.8" stroke="#25292d" stroke-width="1.6"/><line x1="532" y1="1162.9" x2="542.4" y2="1162.9" stroke="#25292d" stroke-width="1.6"/>
<line x1="669.7" y1="1140.5" x2="669.7" y2="1149.8" stroke="#25292d" stroke-width="1.4"/><line x1="669.7" y1="1162" x2="669.7" y2="1171.3" stroke="#25292d" stroke-width="1.4"/><line x1="664.5" y1="1140.5" x2="674.9" y2="1140.5" stroke="#25292d" stroke-width="1.6"/><line x1="664.5" y1="1171.3" x2="674.9" y2="1171.3" stroke="#25292d" stroke-width="1.6"/>
<line x1="141" y1="1043.8" x2="141" y2="1071.2" stroke="#ef4a4a" stroke-width="1.4"/><line x1="141" y1="1084.8" x2="141" y2="1111.2" stroke="#ef4a4a" stroke-width="1.4"/><line x1="135.8" y1="1043.8" x2="146.2" y2="1043.8" stroke="#ef4a4a" stroke-width="1.6"/><line x1="135.8" y1="1111.2" x2="146.2" y2="1111.2" stroke="#ef4a4a" stroke-width="1.6"/>
<line x1="273.1" y1="1067.7" x2="273.1" y2="1074.3" stroke="#ef4a4a" stroke-width="1.4"/><line x1="273.1" y1="1087.9" x2="273.1" y2="1094.1" stroke="#ef4a4a" stroke-width="1.4"/><line x1="267.9" y1="1067.7" x2="278.3" y2="1067.7" stroke="#ef4a4a" stroke-width="1.6"/><line x1="267.9" y1="1094.1" x2="278.3" y2="1094.1" stroke="#ef4a4a" stroke-width="1.6"/>
<line x1="405.2" y1="1115.6" x2="405.2" y2="1120.9" stroke="#ef4a4a" stroke-width="1.4"/><line x1="405.2" y1="1134.5" x2="405.2" y2="1139.8" stroke="#ef4a4a" stroke-width="1.4"/><line x1="400" y1="1115.6" x2="410.4" y2="1115.6" stroke="#ef4a4a" stroke-width="1.6"/><line x1="400" y1="1139.8" x2="410.4" y2="1139.8" stroke="#ef4a4a" stroke-width="1.6"/>
<line x1="537.2" y1="1094" x2="537.2" y2="1098.9" stroke="#ef4a4a" stroke-width="1.4"/><line x1="537.2" y1="1112.5" x2="537.2" y2="1116.7" stroke="#ef4a4a" stroke-width="1.4"/><line x1="532" y1="1094" x2="542.4" y2="1094" stroke="#ef4a4a" stroke-width="1.6"/><line x1="532" y1="1116.7" x2="542.4" y2="1116.7" stroke="#ef4a4a" stroke-width="1.6"/>
<line x1="669.7" y1="1063.3" x2="669.7" y2="1090.1" stroke="#ef4a4a" stroke-width="1.4"/><line x1="669.7" y1="1103.7" x2="669.7" y2="1130.6" stroke="#ef4a4a" stroke-width="1.4"/><line x1="664.5" y1="1063.3" x2="674.9" y2="1063.3" stroke="#ef4a4a" stroke-width="1.6"/><line x1="664.5" y1="1130.6" x2="674.9" y2="1130.6" stroke="#ef4a4a" stroke-width="1.6"/>
<line x1="141" y1="927.5" x2="141" y2="951.35" stroke="#3b82e6" stroke-width="1.4"/><line x1="141" y1="965.38" x2="141" y2="992.5" stroke="#3b82e6" stroke-width="1.4"/><line x1="135.8" y1="927.5" x2="146.2" y2="927.5" stroke="#3b82e6" stroke-width="1.6"/><line x1="135.8" y1="992.5" x2="146.2" y2="992.5" stroke="#3b82e6" stroke-width="1.6"/>
<line x1="273.1" y1="1012.3" x2="273.1" y2="1024.15" stroke="#3b82e6" stroke-width="1.4"/><line x1="273.1" y1="1038.18" x2="273.1" y2="1054" stroke="#3b82e6" stroke-width="1.4"/><line x1="267.9" y1="1012.3" x2="278.3" y2="1012.3" stroke="#3b82e6" stroke-width="1.6"/><line x1="267.9" y1="1054" x2="278.3" y2="1054" stroke="#3b82e6" stroke-width="1.6"/>
<line x1="405.2" y1="1083.38" x2="405.2" y2="1086.4" stroke="#3b82e6" stroke-width="1.4"/><line x1="400" y1="1071" x2="410.4" y2="1071" stroke="#3b82e6" stroke-width="1.6"/><line x1="400" y1="1086.4" x2="410.4" y2="1086.4" stroke="#3b82e6" stroke-width="1.6"/>
<line x1="537.2" y1="1081.5" x2="537.2" y2="1084.25" stroke="#3b82e6" stroke-width="1.4"/><line x1="537.2" y1="1098.28" x2="537.2" y2="1105.7" stroke="#3b82e6" stroke-width="1.4"/><line x1="532" y1="1081.5" x2="542.4" y2="1081.5" stroke="#3b82e6" stroke-width="1.6"/><line x1="532" y1="1105.7" x2="542.4" y2="1105.7" stroke="#3b82e6" stroke-width="1.6"/>
<line x1="669.7" y1="1046.6" x2="669.7" y2="1077.75" stroke="#3b82e6" stroke-width="1.4"/><line x1="669.7" y1="1091.78" x2="669.7" y2="1126.7" stroke="#3b82e6" stroke-width="1.4"/><line x1="664.5" y1="1046.6" x2="674.9" y2="1046.6" stroke="#3b82e6" stroke-width="1.6"/><line x1="664.5" y1="1126.7" x2="674.9" y2="1126.7" stroke="#3b82e6" stroke-width="1.6"/>
<line x1="141" y1="909.3" x2="141" y2="930.32" stroke="#45b077" stroke-width="1.4"/><line x1="141" y1="944.35" x2="141" y2="959" stroke="#45b077" stroke-width="1.4"/><line x1="135.8" y1="909.3" x2="146.2" y2="909.3" stroke="#45b077" stroke-width="1.6"/><line x1="135.8" y1="959" x2="146.2" y2="959" stroke="#45b077" stroke-width="1.6"/>
<line x1="273.1" y1="949.4" x2="273.1" y2="985.42" stroke="#45b077" stroke-width="1.4"/><line x1="273.1" y1="999.45" x2="273.1" y2="1030.8" stroke="#45b077" stroke-width="1.4"/><line x1="267.9" y1="949.4" x2="278.3" y2="949.4" stroke="#45b077" stroke-width="1.6"/><line x1="267.9" y1="1030.8" x2="278.3" y2="1030.8" stroke="#45b077" stroke-width="1.6"/>
<line x1="405.2" y1="1055.3" x2="405.2" y2="1063.22" stroke="#45b077" stroke-width="1.4"/><line x1="405.2" y1="1077.25" x2="405.2" y2="1080.5" stroke="#45b077" stroke-width="1.4"/><line x1="400" y1="1055.3" x2="410.4" y2="1055.3" stroke="#45b077" stroke-width="1.6"/><line x1="400" y1="1080.5" x2="410.4" y2="1080.5" stroke="#45b077" stroke-width="1.6"/>
<line x1="537.2" y1="1038.2" x2="537.2" y2="1068.02" stroke="#45b077" stroke-width="1.4"/><line x1="537.2" y1="1082.05" x2="537.2" y2="1105" stroke="#45b077" stroke-width="1.4"/><line x1="532" y1="1038.2" x2="542.4" y2="1038.2" stroke="#45b077" stroke-width="1.6"/><line x1="532" y1="1105" x2="542.4" y2="1105" stroke="#45b077" stroke-width="1.6"/>
<line x1="669.7" y1="1068.8" x2="669.7" y2="1075.62" stroke="#45b077" stroke-width="1.4"/><line x1="669.7" y1="1089.65" x2="669.7" y2="1093.6" stroke="#45b077" stroke-width="1.4"/><line x1="664.5" y1="1068.8" x2="674.9" y2="1068.8" stroke="#45b077" stroke-width="1.6"/><line x1="664.5" y1="1093.6" x2="674.9" y2="1093.6" stroke="#45b077" stroke-width="1.6"/>
<line x1="141" y1="839.2" x2="141" y2="841.1" stroke="#b88ae2" stroke-width="1.4"/><line x1="141" y1="857.9" x2="141" y2="860.4" stroke="#b88ae2" stroke-width="1.4"/><line x1="135.8" y1="839.2" x2="146.2" y2="839.2" stroke="#b88ae2" stroke-width="1.6"/><line x1="135.8" y1="860.4" x2="146.2" y2="860.4" stroke="#b88ae2" stroke-width="1.6"/>
<line x1="273.1" y1="873.4" x2="273.1" y2="924.9" stroke="#b88ae2" stroke-width="1.4"/><line x1="273.1" y1="941.7" x2="273.1" y2="992.5" stroke="#b88ae2" stroke-width="1.4"/><line x1="267.9" y1="873.4" x2="278.3" y2="873.4" stroke="#b88ae2" stroke-width="1.6"/><line x1="267.9" y1="992.5" x2="278.3" y2="992.5" stroke="#b88ae2" stroke-width="1.6"/>
<line x1="405.2" y1="930.4" x2="405.2" y2="969" stroke="#b88ae2" stroke-width="1.4"/><line x1="405.2" y1="985.8" x2="405.2" y2="1023.9" stroke="#b88ae2" stroke-width="1.4"/><line x1="400" y1="930.4" x2="410.4" y2="930.4" stroke="#b88ae2" stroke-width="1.6"/><line x1="400" y1="1023.9" x2="410.4" y2="1023.9" stroke="#b88ae2" stroke-width="1.6"/>
<line x1="537.2" y1="1047.4" x2="537.2" y2="1060.6" stroke="#b88ae2" stroke-width="1.4"/><line x1="537.2" y1="1077.4" x2="537.2" y2="1090.3" stroke="#b88ae2" stroke-width="1.4"/><line x1="532" y1="1047.4" x2="542.4" y2="1047.4" stroke="#b88ae2" stroke-width="1.6"/><line x1="532" y1="1090.3" x2="542.4" y2="1090.3" stroke="#b88ae2" stroke-width="1.6"/>
<line x1="664.5" y1="1038.6" x2="674.9" y2="1038.6" stroke="#b88ae2" stroke-width="1.6"/><line x1="664.5" y1="1052.9" x2="674.9" y2="1052.9" stroke="#b88ae2" stroke-width="1.6"/>
<line x1="141" y1="753.7" x2="141" y2="829.4" stroke="#d0a020" stroke-width="1.4"/><line x1="141" y1="845.6" x2="141" y2="921.3" stroke="#d0a020" stroke-width="1.4"/><line x1="135.8" y1="753.7" x2="146.2" y2="753.7" stroke="#d0a020" stroke-width="1.6"/><line x1="135.8" y1="921.3" x2="146.2" y2="921.3" stroke="#d0a020" stroke-width="1.6"/>
<line x1="273.1" y1="853.6" x2="273.1" y2="877.3" stroke="#d0a020" stroke-width="1.4"/><line x1="273.1" y1="893.5" x2="273.1" y2="917.2" stroke="#d0a020" stroke-width="1.4"/><line x1="267.9" y1="853.6" x2="278.3" y2="853.6" stroke="#d0a020" stroke-width="1.6"/><line x1="267.9" y1="917.2" x2="278.3" y2="917.2" stroke="#d0a020" stroke-width="1.6"/>
<line x1="405.2" y1="939.2" x2="405.2" y2="955" stroke="#d0a020" stroke-width="1.4"/><line x1="405.2" y1="971.2" x2="405.2" y2="987.3" stroke="#d0a020" stroke-width="1.4"/><line x1="400" y1="939.2" x2="410.4" y2="939.2" stroke="#d0a020" stroke-width="1.6"/><line x1="400" y1="987.3" x2="410.4" y2="987.3" stroke="#d0a020" stroke-width="1.6"/>
<line x1="537.2" y1="1038.2" x2="537.2" y2="1047" stroke="#d0a020" stroke-width="1.4"/><line x1="537.2" y1="1063.2" x2="537.2" y2="1072" stroke="#d0a020" stroke-width="1.4"/><line x1="532" y1="1038.2" x2="542.4" y2="1038.2" stroke="#d0a020" stroke-width="1.6"/><line x1="532" y1="1072" x2="542.4" y2="1072" stroke="#d0a020" stroke-width="1.6"/>
<line x1="669.7" y1="1023.7" x2="669.7" y2="1050.3" stroke="#d0a020" stroke-width="1.4"/><line x1="669.7" y1="1066.5" x2="669.7" y2="1093.6" stroke="#d0a020" stroke-width="1.4"/><line x1="664.5" y1="1023.7" x2="674.9" y2="1023.7" stroke="#d0a020" stroke-width="1.6"/><line x1="664.5" y1="1093.6" x2="674.9" y2="1093.6" stroke="#d0a020" stroke-width="1.6"/>
<rect x="308" y="728.5" width="12.2" height="12.2" fill="#000000"/>
<text x="349.7" y="742.8" font-size="30.7">We = 0.8</text>
<circle cx="515" cy="734.6" r="6.8" fill="#ef3f3f"/>
<text x="550.5" y="742.8" font-size="30.7">We = 4.1</text>
<polygon points="314.1,762.25 322.2,776.28 306,776.28" fill="#1b6ee0"/>
<text x="349.7" y="779.8" font-size="30.7">We = 7.3</text>
<polygon points="515,780.95 523.1,766.92 506.9,766.92" fill="#36ad6a"/>
<text x="550.5" y="779.8" font-size="30.7">We = 10.5</text>
<polygon points="314.1,800.2 322.5,808.6 314.1,817 305.7,808.6" fill="#b07be0"/>
<text x="349.7" y="816.8" font-size="30.7">We = 13.7</text>
<polygon points="505.65,808.6 519.68,800.5 519.68,816.7" fill="#cc9903"/>
<text x="550.5" y="816.8" font-size="30.7">We = 16.9</text>
<rect x="88.5" y="685" width="633.5" height="514.5" fill="none" stroke="#000" stroke-width="2"/>
<text x="88.5" y="1235.1" font-size="33.5" text-anchor="middle">2</text>
<text x="194.08" y="1235.1" font-size="33.5" text-anchor="middle">3</text>
<text x="299.67" y="1235.1" font-size="33.5" text-anchor="middle">4</text>
<text x="405.25" y="1235.1" font-size="33.5" text-anchor="middle">5</text>
<text x="510.83" y="1235.1" font-size="33.5" text-anchor="middle">6</text>
<text x="616.42" y="1235.1" font-size="33.5" text-anchor="middle">7</text>
<text x="722" y="1235.1" font-size="33.5" text-anchor="middle">8</text>
<text x="78" y="1184.1" font-size="33.5" text-anchor="end">0</text>
<text x="78" y="1086.2" font-size="33.5" text-anchor="end">1</text>
<text x="78" y="988.3" font-size="33.5" text-anchor="end">2</text>
<text x="78" y="890.4" font-size="33.5" text-anchor="end">3</text>
<text x="78" y="792.5" font-size="33.5" text-anchor="end">4</text>
<text x="78" y="694.6" font-size="33.5" text-anchor="end">5</text>
<linearGradient id="gradd" gradientUnits="userSpaceOnUse" x1="891.62" y1="1228.62" x2="1467.38" y2="652.88"><stop offset="0" stop-color="#f6fafd"/><stop offset="1" stop-color="#cde5f4"/></linearGradient>
<rect x="861.5" y="683" width="636" height="515.5" fill="url(#gradd)"/>
<path d="M893 1198.5V1189.5M988.49 1198.5V1189.5M1083.98 1198.5V1189.5M1179.47 1198.5V1189.5M1274.96 1198.5V1189.5M1370.45 1198.5V1189.5M1465.94 1198.5V1189.5M940.75 1198.5V1194M1036.23 1198.5V1194M1131.72 1198.5V1194M1227.21 1198.5V1194M1322.7 1198.5V1194M1418.19 1198.5V1194M861.5 1174H870.5M861.5 1075.8H870.5M861.5 977.6H870.5M861.5 879.4H870.5M861.5 781.2H870.5M861.5 683H870.5M861.5 1124.9H866M861.5 1026.7H866M861.5 928.5H866M861.5 830.3H866M861.5 732.1H866" stroke="#000" stroke-width="1.8" fill="none"/>
<rect x="913.7" y="1116.2" width="12.2" height="12.2" fill="#000000"/>
<rect x="1015.9" y="1071" width="12.2" height="12.2" fill="#000000"/>
<rect x="1117.9" y="953.2" width="12.2" height="12.2" fill="#000000"/>
<rect x="1219.7" y="927.5" width="12.2" height="12.2" fill="#000000"/>
<rect x="1321.7" y="842.7" width="12.2" height="12.2" fill="#000000"/>
<rect x="1423.7" y="830" width="12.2" height="12.2" fill="#000000"/>
<circle cx="919.8" cy="1132.3" r="6.8" fill="#ef3f3f"/>
<circle cx="1022" cy="1079.8" r="6.8" fill="#ef3f3f"/>
<circle cx="1124" cy="1032.6" r="6.8" fill="#ef3f3f"/>
<circle cx="1225.8" cy="989.2" r="6.8" fill="#ef3f3f"/>
<circle cx="1327.8" cy="931.5" r="6.8" fill="#ef3f3f"/>
<circle cx="1429.8" cy="884" r="6.8" fill="#ef3f3f"/>
<polygon points="919.8,1113.15 927.9,1127.18 911.7,1127.18" fill="#1b6ee0"/>
<polygon points="1022,1118.05 1030.1,1132.08 1013.9,1132.08" fill="#1b6ee0"/>
<polygon points="1124,1067.05 1132.1,1081.08 1115.9,1081.08" fill="#1b6ee0"/>
<polygon points="1225.8,1057.85 1233.9,1071.88 1217.7,1071.88" fill="#1b6ee0"/>
<polygon points="1327.8,967.15 1335.9,981.18 1319.7,981.18" fill="#1b6ee0"/>
<polygon points="1429.8,953.25 1437.9,967.28 1421.7,967.28" fill="#1b6ee0"/>
<polygon points="919.8,1159.95 927.9,1145.92 911.7,1145.92" fill="#36ad6a"/>
<polygon points="1022,1113.05 1030.1,1099.02 1013.9,1099.02" fill="#36ad6a"/>
<polygon points="1124,1101.55 1132.1,1087.52 1115.9,1087.52" fill="#36ad6a"/>
<polygon points="1225.8,1080.25 1233.9,1066.22 1217.7,1066.22" fill="#36ad6a"/>
<polygon points="1327.8,1077.45 1335.9,1063.42 1319.7,1063.42" fill="#36ad6a"/>
<polygon points="1429.8,1062.65 1437.9,1048.62 1421.7,1048.62" fill="#36ad6a"/>
<polygon points="919.8,1147 928.2,1155.4 919.8,1163.8 911.4,1155.4" fill="#b07be0"/>
<polygon points="1022,1088.3 1030.4,1096.7 1022,1105.1 1013.6,1096.7" fill="#b07be0"/>
<polygon points="1124,1077.7 1132.4,1086.1 1124,1094.5 1115.6,1086.1" fill="#b07be0"/>
<polygon points="1225.8,1070.9 1234.2,1079.3 1225.8,1087.7 1217.4,1079.3" fill="#b07be0"/>
<polygon points="1327.8,1036.1 1336.2,1044.5 1327.8,1052.9 1319.4,1044.5" fill="#b07be0"/>
<polygon points="1429.8,1049.4 1438.2,1057.8 1429.8,1066.2 1421.4,1057.8" fill="#b07be0"/>
<line x1="919.8" y1="1108.5" x2="919.8" y2="1116.2" stroke="#25292d" stroke-width="1.4"/><line x1="919.8" y1="1128.4" x2="919.8" y2="1136.2" stroke="#25292d" stroke-width="1.4"/><line x1="914.6" y1="1108.5" x2="925" y2="1108.5" stroke="#25292d" stroke-width="1.6"/><line x1="914.6" y1="1136.2" x2="925" y2="1136.2" stroke="#25292d" stroke-width="1.6"/>
<line x1="1022" y1="1043.2" x2="1022" y2="1071" stroke="#25292d" stroke-width="1.4"/><line x1="1022" y1="1083.2" x2="1022" y2="1111.4" stroke="#25292d" stroke-width="1.4"/><line x1="1016.8" y1="1043.2" x2="1027.2" y2="1043.2" stroke="#25292d" stroke-width="1.6"/><line x1="1016.8" y1="1111.4" x2="1027.2" y2="1111.4" stroke="#25292d" stroke-width="1.6"/>
<line x1="1124" y1="926.6" x2="1124" y2="953.2" stroke="#25292d" stroke-width="1.4"/><line x1="1124" y1="965.4" x2="1124" y2="991.4" stroke="#25292d" stroke-width="1.4"/><line x1="1118.8" y1="926.6" x2="1129.2" y2="926.6" stroke="#25292d" stroke-width="1.6"/><line x1="1118.8" y1="991.4" x2="1129.2" y2="991.4" stroke="#25292d" stroke-width="1.6"/>
<line x1="1225.8" y1="908.5" x2="1225.8" y2="927.5" stroke="#25292d" stroke-width="1.4"/><line x1="1225.8" y1="939.7" x2="1225.8" y2="959.3" stroke="#25292d" stroke-width="1.4"/><line x1="1220.6" y1="908.5" x2="1231" y2="908.5" stroke="#25292d" stroke-width="1.6"/><line x1="1220.6" y1="959.3" x2="1231" y2="959.3" stroke="#25292d" stroke-width="1.6"/>
<line x1="1327.8" y1="837.5" x2="1327.8" y2="842.7" stroke="#25292d" stroke-width="1.4"/><line x1="1327.8" y1="854.9" x2="1327.8" y2="858.8" stroke="#25292d" stroke-width="1.4"/><line x1="1322.6" y1="837.5" x2="1333" y2="837.5" stroke="#25292d" stroke-width="1.6"/><line x1="1322.6" y1="858.8" x2="1333" y2="858.8" stroke="#25292d" stroke-width="1.6"/>
<line x1="1429.8" y1="751.8" x2="1429.8" y2="830" stroke="#25292d" stroke-width="1.4"/><line x1="1429.8" y1="842.2" x2="1429.8" y2="919.7" stroke="#25292d" stroke-width="1.4"/><line x1="1424.6" y1="751.8" x2="1435" y2="751.8" stroke="#25292d" stroke-width="1.6"/><line x1="1424.6" y1="919.7" x2="1435" y2="919.7" stroke="#25292d" stroke-width="1.6"/>
<line x1="919.8" y1="1112.9" x2="919.8" y2="1125.5" stroke="#ef4a4a" stroke-width="1.4"/><line x1="919.8" y1="1139.1" x2="919.8" y2="1148.2" stroke="#ef4a4a" stroke-width="1.4"/><line x1="914.6" y1="1112.9" x2="925" y2="1112.9" stroke="#ef4a4a" stroke-width="1.6"/><line x1="914.6" y1="1148.2" x2="925" y2="1148.2" stroke="#ef4a4a" stroke-width="1.6"/>
<line x1="1022" y1="1066.9" x2="1022" y2="1073" stroke="#ef4a4a" stroke-width="1.4"/><line x1="1022" y1="1086.6" x2="1022" y2="1092.9" stroke="#ef4a4a" stroke-width="1.4"/><line x1="1016.8" y1="1066.9" x2="1027.2" y2="1066.9" stroke="#ef4a4a" stroke-width="1.6"/><line x1="1016.8" y1="1092.9" x2="1027.2" y2="1092.9" stroke="#ef4a4a" stroke-width="1.6"/>
<line x1="1124" y1="1011" x2="1124" y2="1025.8" stroke="#ef4a4a" stroke-width="1.4"/><line x1="1124" y1="1039.4" x2="1124" y2="1053.8" stroke="#ef4a4a" stroke-width="1.4"/><line x1="1118.8" y1="1011" x2="1129.2" y2="1011" stroke="#ef4a4a" stroke-width="1.6"/><line x1="1118.8" y1="1053.8" x2="1129.2" y2="1053.8" stroke="#ef4a4a" stroke-width="1.6"/>
<line x1="1225.8" y1="948.4" x2="1225.8" y2="982.4" stroke="#ef4a4a" stroke-width="1.4"/><line x1="1225.8" y1="996" x2="1225.8" y2="1030.3" stroke="#ef4a4a" stroke-width="1.4"/><line x1="1220.6" y1="948.4" x2="1231" y2="948.4" stroke="#ef4a4a" stroke-width="1.6"/><line x1="1220.6" y1="1030.3" x2="1231" y2="1030.3" stroke="#ef4a4a" stroke-width="1.6"/>
<line x1="1327.8" y1="872.4" x2="1327.8" y2="924.7" stroke="#ef4a4a" stroke-width="1.4"/><line x1="1327.8" y1="938.3" x2="1327.8" y2="991.3" stroke="#ef4a4a" stroke-width="1.4"/><line x1="1322.6" y1="872.4" x2="1333" y2="872.4" stroke="#ef4a4a" stroke-width="1.6"/><line x1="1322.6" y1="991.3" x2="1333" y2="991.3" stroke="#ef4a4a" stroke-width="1.6"/>
<line x1="1429.8" y1="852.3" x2="1429.8" y2="877.2" stroke="#ef4a4a" stroke-width="1.4"/><line x1="1429.8" y1="890.8" x2="1429.8" y2="915.9" stroke="#ef4a4a" stroke-width="1.4"/><line x1="1424.6" y1="852.3" x2="1435" y2="852.3" stroke="#ef4a4a" stroke-width="1.6"/><line x1="1424.6" y1="915.9" x2="1435" y2="915.9" stroke="#ef4a4a" stroke-width="1.6"/>
<line x1="919.8" y1="1105.4" x2="919.8" y2="1113.15" stroke="#3b82e6" stroke-width="1.4"/><line x1="919.8" y1="1127.18" x2="919.8" y2="1139.5" stroke="#3b82e6" stroke-width="1.4"/><line x1="914.6" y1="1105.4" x2="925" y2="1105.4" stroke="#3b82e6" stroke-width="1.6"/><line x1="914.6" y1="1139.5" x2="925" y2="1139.5" stroke="#3b82e6" stroke-width="1.6"/>
<line x1="1022" y1="1115.9" x2="1022" y2="1118.05" stroke="#3b82e6" stroke-width="1.4"/><line x1="1022" y1="1132.08" x2="1022" y2="1138.4" stroke="#3b82e6" stroke-width="1.4"/><line x1="1016.8" y1="1115.9" x2="1027.2" y2="1115.9" stroke="#3b82e6" stroke-width="1.6"/><line x1="1016.8" y1="1138.4" x2="1027.2" y2="1138.4" stroke="#3b82e6" stroke-width="1.6"/>
<line x1="1124" y1="1065.8" x2="1124" y2="1067.05" stroke="#3b82e6" stroke-width="1.4"/><line x1="1124" y1="1081.08" x2="1124" y2="1086" stroke="#3b82e6" stroke-width="1.4"/><line x1="1118.8" y1="1065.8" x2="1129.2" y2="1065.8" stroke="#3b82e6" stroke-width="1.6"/><line x1="1118.8" y1="1086" x2="1129.2" y2="1086" stroke="#3b82e6" stroke-width="1.6"/>
<line x1="1225.8" y1="1054.2" x2="1225.8" y2="1057.85" stroke="#3b82e6" stroke-width="1.4"/><line x1="1225.8" y1="1071.88" x2="1225.8" y2="1080" stroke="#3b82e6" stroke-width="1.4"/><line x1="1220.6" y1="1054.2" x2="1231" y2="1054.2" stroke="#3b82e6" stroke-width="1.6"/><line x1="1220.6" y1="1080" x2="1231" y2="1080" stroke="#3b82e6" stroke-width="1.6"/>
<line x1="1327.8" y1="929.2" x2="1327.8" y2="967.15" stroke="#3b82e6" stroke-width="1.4"/><line x1="1327.8" y1="981.18" x2="1327.8" y2="1022.9" stroke="#3b82e6" stroke-width="1.4"/><line x1="1322.6" y1="929.2" x2="1333" y2="929.2" stroke="#3b82e6" stroke-width="1.6"/><line x1="1322.6" y1="1022.9" x2="1333" y2="1022.9" stroke="#3b82e6" stroke-width="1.6"/>
<line x1="1429.8" y1="938" x2="1429.8" y2="953.25" stroke="#3b82e6" stroke-width="1.4"/><line x1="1429.8" y1="967.28" x2="1429.8" y2="985.9" stroke="#3b82e6" stroke-width="1.4"/><line x1="1424.6" y1="938" x2="1435" y2="938" stroke="#3b82e6" stroke-width="1.6"/><line x1="1424.6" y1="985.9" x2="1435" y2="985.9" stroke="#3b82e6" stroke-width="1.6"/>
<line x1="919.8" y1="1139" x2="919.8" y2="1145.92" stroke="#45b077" stroke-width="1.4"/><line x1="919.8" y1="1159.95" x2="919.8" y2="1162.4" stroke="#45b077" stroke-width="1.4"/><line x1="914.6" y1="1139" x2="925" y2="1139" stroke="#45b077" stroke-width="1.6"/><line x1="914.6" y1="1162.4" x2="925" y2="1162.4" stroke="#45b077" stroke-width="1.6"/>
<line x1="1022" y1="1092" x2="1022" y2="1099.02" stroke="#45b077" stroke-width="1.4"/><line x1="1022" y1="1113.05" x2="1022" y2="1115.4" stroke="#45b077" stroke-width="1.4"/><line x1="1016.8" y1="1092" x2="1027.2" y2="1092" stroke="#45b077" stroke-width="1.6"/><line x1="1016.8" y1="1115.4" x2="1027.2" y2="1115.4" stroke="#45b077" stroke-width="1.6"/>
<line x1="1124" y1="1080.2" x2="1124" y2="1087.52" stroke="#45b077" stroke-width="1.4"/><line x1="1124" y1="1101.55" x2="1124" y2="1104.2" stroke="#45b077" stroke-width="1.4"/><line x1="1118.8" y1="1080.2" x2="1129.2" y2="1080.2" stroke="#45b077" stroke-width="1.6"/><line x1="1118.8" y1="1104.2" x2="1129.2" y2="1104.2" stroke="#45b077" stroke-width="1.6"/>
<line x1="1225.8" y1="1037.7" x2="1225.8" y2="1066.22" stroke="#45b077" stroke-width="1.4"/><line x1="1225.8" y1="1080.25" x2="1225.8" y2="1104.5" stroke="#45b077" stroke-width="1.4"/><line x1="1220.6" y1="1037.7" x2="1231" y2="1037.7" stroke="#45b077" stroke-width="1.6"/><line x1="1220.6" y1="1104.5" x2="1231" y2="1104.5" stroke="#45b077" stroke-width="1.6"/>
<line x1="1327.8" y1="1046.8" x2="1327.8" y2="1063.42" stroke="#45b077" stroke-width="1.4"/><line x1="1327.8" y1="1077.45" x2="1327.8" y2="1089.4" stroke="#45b077" stroke-width="1.4"/><line x1="1322.6" y1="1046.8" x2="1333" y2="1046.8" stroke="#45b077" stroke-width="1.6"/><line x1="1322.6" y1="1089.4" x2="1333" y2="1089.4" stroke="#45b077" stroke-width="1.6"/>
<line x1="1429.8" y1="1036.5" x2="1429.8" y2="1048.62" stroke="#45b077" stroke-width="1.4"/><line x1="1429.8" y1="1062.65" x2="1429.8" y2="1071.7" stroke="#45b077" stroke-width="1.4"/><line x1="1424.6" y1="1036.5" x2="1435" y2="1036.5" stroke="#45b077" stroke-width="1.6"/><line x1="1424.6" y1="1071.7" x2="1435" y2="1071.7" stroke="#45b077" stroke-width="1.6"/>
<line x1="919.8" y1="1139.7" x2="919.8" y2="1147" stroke="#b88ae2" stroke-width="1.4"/><line x1="919.8" y1="1163.8" x2="919.8" y2="1170.8" stroke="#b88ae2" stroke-width="1.4"/><line x1="914.6" y1="1139.7" x2="925" y2="1139.7" stroke="#b88ae2" stroke-width="1.6"/><line x1="914.6" y1="1170.8" x2="925" y2="1170.8" stroke="#b88ae2" stroke-width="1.6"/>
<line x1="1022" y1="1062.4" x2="1022" y2="1088.3" stroke="#b88ae2" stroke-width="1.4"/><line x1="1022" y1="1105.1" x2="1022" y2="1130.1" stroke="#b88ae2" stroke-width="1.4"/><line x1="1016.8" y1="1062.4" x2="1027.2" y2="1062.4" stroke="#b88ae2" stroke-width="1.6"/><line x1="1016.8" y1="1130.1" x2="1027.2" y2="1130.1" stroke="#b88ae2" stroke-width="1.6"/>
<line x1="1124" y1="1045.5" x2="1124" y2="1077.7" stroke="#b88ae2" stroke-width="1.4"/><line x1="1124" y1="1094.5" x2="1124" y2="1125.6" stroke="#b88ae2" stroke-width="1.4"/><line x1="1118.8" y1="1045.5" x2="1129.2" y2="1045.5" stroke="#b88ae2" stroke-width="1.6"/><line x1="1118.8" y1="1125.6" x2="1129.2" y2="1125.6" stroke="#b88ae2" stroke-width="1.6"/>
<line x1="1225.8" y1="1067.7" x2="1225.8" y2="1070.9" stroke="#b88ae2" stroke-width="1.4"/><line x1="1225.8" y1="1087.7" x2="1225.8" y2="1090.9" stroke="#b88ae2" stroke-width="1.4"/><line x1="1220.6" y1="1067.7" x2="1231" y2="1067.7" stroke="#b88ae2" stroke-width="1.6"/><line x1="1220.6" y1="1090.9" x2="1231" y2="1090.9" stroke="#b88ae2" stroke-width="1.6"/>
<line x1="1322.6" y1="1037" x2="1333" y2="1037" stroke="#b88ae2" stroke-width="1.6"/><line x1="1322.6" y1="1051.8" x2="1333" y2="1051.8" stroke="#b88ae2" stroke-width="1.6"/>
<line x1="1429.8" y1="1022.3" x2="1429.8" y2="1049.4" stroke="#b88ae2" stroke-width="1.4"/><line x1="1429.8" y1="1066.2" x2="1429.8" y2="1093.2" stroke="#b88ae2" stroke-width="1.4"/><line x1="1424.6" y1="1022.3" x2="1435" y2="1022.3" stroke="#b88ae2" stroke-width="1.6"/><line x1="1424.6" y1="1093.2" x2="1435" y2="1093.2" stroke="#b88ae2" stroke-width="1.6"/>
<rect x="913.3" y="716.7" width="12.2" height="12.2" fill="#000000"/>
<text x="957.5" y="731.3" font-size="30.7"><tspan font-style="italic">r</tspan> = 2.50 mm</text>
<circle cx="919.4" cy="760.1" r="6.8" fill="#ef3f3f"/>
<text x="957.5" y="768.8" font-size="30.7"><tspan font-style="italic">r</tspan> = 3.75 mm</text>
<polygon points="919.4,788.05 927.5,802.08 911.3,802.08" fill="#1b6ee0"/>
<text x="957.5" y="806.3" font-size="30.7"><tspan font-style="italic">r</tspan> = 5.00 mm</text>
<polygon points="919.4,844.05 927.5,830.02 911.3,830.02" fill="#36ad6a"/>
<text x="957.5" y="843.8" font-size="30.7"><tspan font-style="italic">r</tspan> = 6.25 mm</text>
<polygon points="919.4,863.6 927.8,872 919.4,880.4 911,872" fill="#b07be0"/>
<text x="957.5" y="881.3" font-size="30.7"><tspan font-style="italic">r</tspan> = 7.50 mm</text>
<rect x="861.5" y="683" width="636" height="515.5" fill="none" stroke="#000" stroke-width="2"/>
<text x="893" y="1234.9" font-size="33.5" text-anchor="middle">0</text>
<text x="988.49" y="1234.9" font-size="33.5" text-anchor="middle">3</text>
<text x="1083.98" y="1234.9" font-size="33.5" text-anchor="middle">6</text>
<text x="1179.47" y="1234.9" font-size="33.5" text-anchor="middle">9</text>
<text x="1274.96" y="1234.9" font-size="33.5" text-anchor="middle">12</text>
<text x="1370.45" y="1234.9" font-size="33.5" text-anchor="middle">15</text>
<text x="1465.94" y="1234.9" font-size="33.5" text-anchor="middle">18</text>
<text x="851" y="1183.6" font-size="33.5" text-anchor="end">0</text>
<text x="851" y="1085.4" font-size="33.5" text-anchor="end">1</text>
<text x="851" y="987.2" font-size="33.5" text-anchor="end">2</text>
<text x="851" y="889" font-size="33.5" text-anchor="end">3</text>
<text x="851" y="790.8" font-size="33.5" text-anchor="end">4</text>
<text x="851" y="692.6" font-size="33.5" text-anchor="end">5</text>
<text x="404" y="623.7" font-size="33" text-anchor="middle"><tspan font-style="italic">r</tspan> (mm)</text>
<text x="1181" y="627" font-size="36" text-anchor="middle">We</text>
<text x="405" y="1277.6" font-size="36" text-anchor="middle"><tspan font-style="italic">r</tspan> (mm)</text>
<text x="1179.5" y="1279.6" font-size="36" text-anchor="middle">We</text>
<text transform="translate(38.3,288.6) rotate(-90)" font-size="35.8" text-anchor="middle">Δ<tspan font-style="italic">l</tspan><tspan font-size="23.63" dy="9.31">L</tspan><tspan dy="-9.31"> (mm)</tspan></text>
<text transform="translate(814.5,288.6) rotate(-90)" font-size="35.8" text-anchor="middle">Δ<tspan font-style="italic">l</tspan><tspan font-size="23.63" dy="9.31">L</tspan><tspan dy="-9.31"> (mm)</tspan></text>
<text transform="translate(40,942.4) rotate(-90)" font-size="36" text-anchor="middle">Δ<tspan font-style="italic">l</tspan><tspan font-size="23.76" dy="9.36">R</tspan><tspan dy="-9.36"> (mm)</tspan></text>
<text transform="translate(812.7,941) rotate(-90)" font-size="36" text-anchor="middle">Δ<tspan font-style="italic">l</tspan><tspan font-size="23.76" dy="9.36">R</tspan><tspan dy="-9.36"> (mm)</tspan></text>
<text transform="translate(-0.6,35.7) scale(0.89,1)" font-size="52" font-weight="bold">a</text>
<text x="769" y="35.7" font-size="52" font-weight="bold">b</text>
<text x="-1.5" y="691.2" font-size="52" font-weight="bold">c</text>
<text x="769" y="691.2" font-size="52" font-weight="bold">d</text>
</svg>
</body></html>
